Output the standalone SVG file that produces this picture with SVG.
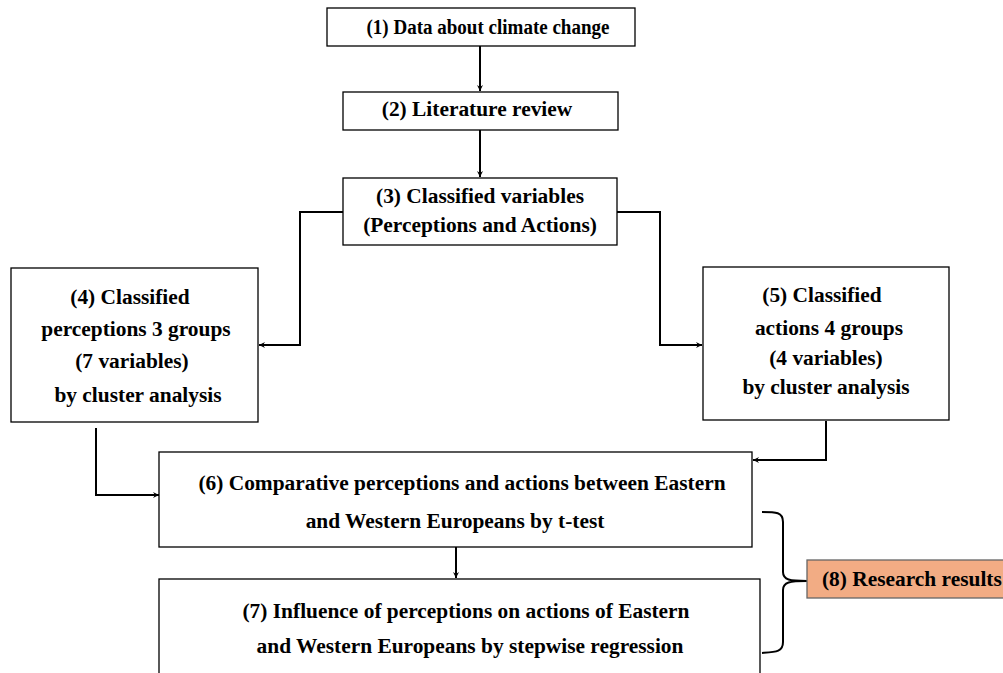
<svg xmlns="http://www.w3.org/2000/svg" width="1003" height="673" viewBox="0 0 1003 673">
<defs>
<style>
.box{fill:#fff;stroke:#000;stroke-width:1.3}
.t{font-family:"Liberation Serif","Times New Roman",serif;font-weight:bold;font-size:21.4px;fill:#000;text-anchor:middle}
.c{fill:none;stroke:#000;stroke-width:2}
</style>
<marker id="ah" markerWidth="8" markerHeight="8" refX="7" refY="4" orient="auto" markerUnits="userSpaceOnUse">
<path d="M1,1 L7,4 L1,7 L3,4 Z" fill="#000"/>
</marker>
</defs>
<rect width="1003" height="673" fill="#fff"/>
<g id="connectors">
<path class="c" d="M480,46 V91" marker-end="url(#ah)"/>
<path class="c" d="M480,130 V177" marker-end="url(#ah)"/>
<path class="c" d="M343,212 H300 V345 H259" marker-end="url(#ah)"/>
<path class="c" d="M617,212 H660 V345 H702" marker-end="url(#ah)"/>
<path class="c" d="M96,428 V495 H159" marker-end="url(#ah)"/>
<path class="c" d="M826,421 V460 H753" marker-end="url(#ah)"/>
<path class="c" d="M456,547 V578" marker-end="url(#ah)"/>
<path class="c" stroke-width="1.6" d="M762,512 C776,512 783,512 783,522 V572 C783,580 790,581 807,581 C790,581 783,582 783,590 V642 C783,652 776,652 762,653"/>
</g>
<g id="n1"><rect class="box" x="327" y="8" width="308" height="38"/><text class="t" x="488" y="34" textLength="243" lengthAdjust="spacingAndGlyphs">(1) Data about climate change</text></g>
<g id="n2"><rect class="box" x="343" y="92" width="275" height="38"/><text class="t" x="477" y="116">(2) Literature review</text></g>
<g id="n3"><rect class="box" x="343" y="178" width="274" height="67"/><text class="t" x="480" y="203">(3) Classified variables</text><text class="t" x="480" y="232">(Perceptions and Actions)</text></g>
<g id="n4"><rect class="box" x="11" y="268" width="247" height="154"/><text class="t" x="130" y="304">(4) Classified</text><text class="t" x="136" y="336">perceptions 3 groups</text><text class="t" x="132" y="368">(7 variables)</text><text class="t" x="138" y="402">by cluster analysis</text></g>
<g id="n5"><rect class="box" x="703" y="267" width="246" height="153"/><text class="t" x="822" y="302">(5) Classified</text><text class="t" x="829" y="335">actions 4 groups</text><text class="t" x="826" y="365">(4 variables)</text><text class="t" x="826" y="394">by cluster analysis</text></g>
<g id="n6"><rect class="box" x="159" y="452" width="593" height="95"/><text class="t" x="462" y="490">(6) Comparative perceptions and actions between Eastern</text><text class="t" x="455" y="528">and Western Europeans by t-test</text></g>
<g id="n7"><rect class="box" x="159" y="579" width="601" height="100"/><text class="t" x="466" y="618">(7) Influence of perceptions on actions of Eastern</text><text class="t" x="470" y="653">and Western Europeans by stepwise regression</text></g>
<g id="n8"><rect x="807" y="560" width="200" height="38" fill="#F2AC84" stroke="#666" stroke-width="1.3"/><text class="t" x="822" y="586" style="text-anchor:start">(8) Research results</text></g>
</svg>
